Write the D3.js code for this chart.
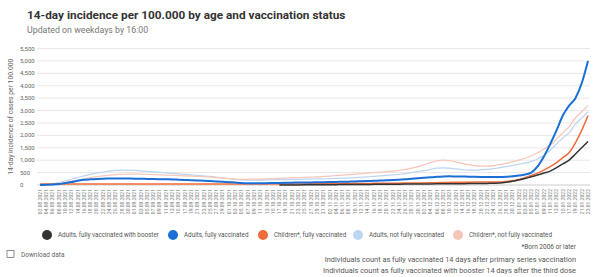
<!DOCTYPE html>
<html>
<head>
<meta charset="utf-8">
<script src="https://cdn.jsdelivr.net/npm/d3@7"></script>
<style>
  body { margin: 0; background: #fff; font-family: Roboto, "Open Sans", sans-serif; }
  svg text { fill: #555; }
</style>
</head>
<body>
<div id="chart"></div>
<script>
// date labels, every second day
const dates = d3.timeDay.range(new Date(2021, 7, 2), new Date(2022, 0, 25), 2);
const yTicks = [0, 500, 1000, 1500, 2000, 2500, 3000, 3500, 4000, 4500, 5000, 5500];

// 14-day incidence per 100,000
const adultsBooster = [null,null,null,null,null,null,null,null,null,null,null,null,null,null,null,null,null,null,null,null,
  null,null,null,null,null,null,null,null,null,null,null,null,null,null,null,null,null,null,0,2,
  4,5,6,8,10,12,14,15,16,18,20,22,24,26,28,30,32,34,36,38,
  40,42,44,46,48,50,52,54,56,58,60,65,70,80,110,150,200,260,330,400,
  480,560,700,850,1000,1250,1500,1750];
const adultsVacc = [0,10,20,40,80,120,170,210,230,245,255,260,265,265,260,255,250,245,240,235,
  230,225,215,205,195,185,175,160,145,130,115,100,85,75,70,70,75,80,85,90,
  95,100,100,105,110,115,120,125,130,135,140,150,160,170,180,190,200,215,230,250,
  270,290,310,330,345,350,345,340,335,330,325,320,320,325,335,350,380,420,500,750,
  1150,1650,2200,2800,3200,3500,4100,5000];
const childrenVacc = [40,40,40,40,40,40,40,40,40,40,40,40,40,40,40,40,40,40,40,40,
  40,40,40,40,40,40,40,40,40,40,40,40,40,40,40,40,40,40,40,40,
  40,42,44,46,48,50,52,54,56,58,60,62,64,66,68,70,72,74,76,78,
  80,85,90,95,100,105,110,112,114,116,118,120,122,125,140,170,220,290,380,480,
  600,740,900,1100,1300,1700,2200,2800];
const adultsNotVacc = [0,20,50,100,160,230,300,370,430,480,520,560,590,600,600,590,570,550,530,510,
  490,470,450,430,410,390,370,350,320,290,260,230,210,200,200,200,205,210,215,220,
  225,230,235,240,245,250,255,265,275,285,300,315,330,350,370,390,410,430,460,500,
  540,580,630,680,690,680,650,620,600,600,610,630,660,700,740,790,840,880,950,1050,
  1200,1400,1650,1900,2100,2450,2700,2950];
const childrenNotVacc = [0,10,30,60,100,150,200,250,300,340,370,400,420,430,440,440,435,430,420,410,
  400,390,380,370,360,350,340,320,300,280,260,240,230,230,235,240,250,260,270,280,
  290,300,310,320,330,345,360,380,400,420,440,460,480,500,520,540,560,590,630,680,
  740,820,900,970,1000,980,930,870,820,780,760,760,780,820,870,930,1000,1080,1180,1300,
  1450,1600,1850,2100,2350,2700,2950,3200];

const seriesNames = ["Adults, fully vaccinated with booster", "Adults, fully vaccinated",
  "Children*, fully vaccinated", "Adults, not fully vaccinated", "Children*, not fully vaccinated"];
const seriesValues = [adultsBooster, adultsVacc, childrenVacc, adultsNotVacc, childrenNotVacc];
const seriesColors = ["#333333", "#1a6fd6", "#f26b3a", "#bcd5f0", "#f7c6b8"];
const seriesWidths = [1.5, 2, 1.5, 1.2, 1.2];
const drawOrder = [3, 4, 2, 0, 1];

const footnotes = ["*Born 2006 or later",
  "Individuals count as fully vaccinated 14 days after primary series vaccination",
  "Individuals count as fully vaccinated with booster 14 days after the third dose"];

const width = 593, height = 277;
const fmtDate = d3.timeFormat("%d.%m.%Y");

const svg = d3.select("#chart").append("svg")
  .attr("width", width).attr("height", height);

svg.append("text").attr("x", 27).attr("y", 19)
  .style("font-size", "11.8px").style("font-weight", "bold").style("fill", "#333")
  .text("14-day incidence per 100.000 by age and vaccination status");
svg.append("text").attr("x", 27).attr("y", 33)
  .style("font-size", "8.8px").style("fill", "#777")
  .text("Updated on weekdays by 16:00");

const x = d3.scalePoint().domain(dates.map(fmtDate)).range([40, 588]);
const y = d3.scaleLinear().domain([0, 5500]).range([185, 48.5]);

// grid + y labels
const grid = svg.append("g");
grid.selectAll("line").data(yTicks).enter().append("line")
  .attr("x1", 37).attr("x2", 590)
  .attr("y1", d => y(d)).attr("y2", d => y(d))
  .attr("stroke", d => d === 0 ? "#ccc" : "#e8e8e8").attr("stroke-width", 1);
grid.selectAll("text").data(yTicks).enter().append("text")
  .attr("x", 20).attr("y", d => y(d) + 2)
  .style("font-size", "6px").style("fill", "#666")
  .text(d => d3.format(",")(d));

svg.append("text")
  .attr("transform", "translate(13," + y(2750) + ") rotate(-90)")
  .attr("text-anchor", "middle")
  .style("font-size", "6.8px").style("fill", "#666")
  .text("14-day incidence of cases per 100.000");

// x labels
svg.append("g").selectAll("text").data(dates).enter().append("text")
  .attr("transform", d => "translate(" + (x(fmtDate(d)) + 1.8) + ",189) rotate(-90)")
  .attr("text-anchor", "end")
  .style("font-size", "5px").style("fill", "#777")
  .text(d => fmtDate(d));

// lines
const line = d3.line()
  .defined(d => d != null)
  .x((d, i) => x(fmtDate(dates[i])))
  .y(d => y(d))
  .curve(d3.curveMonotoneX);

drawOrder.forEach(k => {
  svg.append("path")
    .datum(seriesValues[k])
    .attr("fill", "none")
    .attr("stroke", seriesColors[k])
    .attr("stroke-width", seriesWidths[k])
    .attr("stroke-linejoin", "round")
    .attr("d", line);
});

// legend
const legendX = [47, 173, 263, 358, 458];
const legend = svg.append("g");
seriesNames.forEach((name, i) => {
  legend.append("circle").attr("cx", legendX[i]).attr("cy", 235).attr("r", 5)
    .attr("fill", seriesColors[i]);
  legend.append("text").attr("x", legendX[i] + 11).attr("y", 237.3)
    .style("font-size", "6.3px").style("fill", "#555").text(name);
});

// download link
svg.append("rect").attr("x", 7).attr("y", 250.5).attr("width", 7).attr("height", 7)
  .attr("fill", "none").attr("stroke", "#777").attr("stroke-width", 0.8);
svg.append("text").attr("x", 21).attr("y", 256.5)
  .style("font-size", "6.5px").style("fill", "#666").text("Download data");

// footnotes
svg.append("g").selectAll("text").data(footnotes).enter().append("text")
  .attr("x", 576).attr("y", (d, i) => [249, 262, 273][i])
  .attr("text-anchor", "end")
  .style("font-size", (d, i) => i === 0 ? "6.5px" : "7.4px").style("fill", "#555")
  .text(d => d);
</script>
</body>
</html>
